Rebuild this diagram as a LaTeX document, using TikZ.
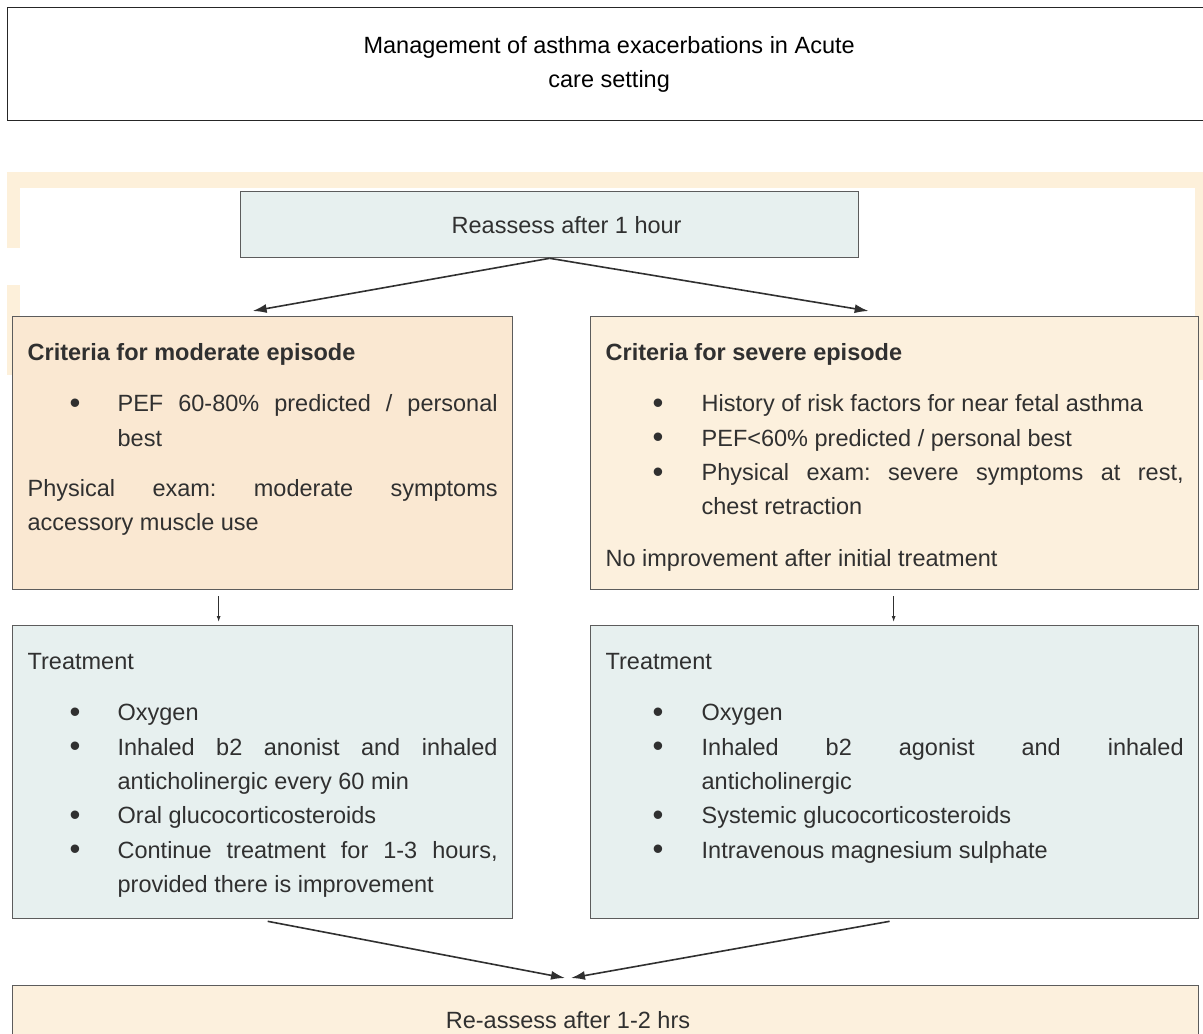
\documentclass[tikz,border=0pt]{standalone}
\usepackage{fontspec}
\setmainfont{Liberation Sans}
\usetikzlibrary{arrows.meta,positioning,calc}

\definecolor{inkgray}{HTML}{303030}
\definecolor{framegray}{HTML}{5C5C5C}
\definecolor{peach}{HTML}{FAE8D2}
\definecolor{cream}{HTML}{FCF0DD}
\definecolor{mist}{HTML}{E7F0EF}
\definecolor{scanbeige}{HTML}{FDF0DA}

\newlength{\bhang}
\newlength{\bpos}
% heading line of a panel
\newcommand{\panelhead}[1]{\noindent\rule{0pt}{44pt}#1\par\vspace{17pt}}
% one bullet of a panel
\newcommand{\bitem}[1]{\hangindent=\bhang\hangafter=1\noindent
  \makebox[\bhang][l]{\hspace{\bpos}\raisebox{-1.5pt}{\fontsize{31}{34}\selectfont\textbullet}}#1\par}
% text of a panel, fixed height, top aligned
\newcommand{\panelbody}[3]{\begin{minipage}[c][#1][t]{#2}%
  \fontsize{23.5}{34.3}\selectfont\frenchspacing\color{inkgray}\setlength{\parindent}{0pt}#3\end{minipage}}

\begin{document}
\begin{tikzpicture}[
  x=1pt, y=-1pt,
  every node/.style={font=\fontsize{23.5}{34.3}\selectfont},
  panel/.style={
    draw=framegray,
    line width=1.3pt,
    anchor=north west,
    inner xsep=15pt,
    inner ysep=0pt
  },
  arrow/.style={-{Latex[length=14pt,width=9pt]}, line width=1.6pt, draw=inkgray},
  smallarrow/.style={-{Latex[length=6pt,width=4pt]}, line width=1pt, draw=inkgray}
]
\useasboundingbox (0,0) rectangle (1203,1034);
\fill[white] (0,0) rectangle (1203,1034);

% title
\node[draw=black!85, line width=1.3pt, anchor=north west, minimum width=1203,
  minimum height=113, align=center] (title) at (7,7)
  {Management of asthma exacerbations in Acute\\care setting};

% scanned page edges
\fill[scanbeige] (7,172) rectangle (1203,188);
\fill[scanbeige] (7,188) rectangle (20,248);
\fill[scanbeige] (7,285) rectangle (20,375);
\fill[scanbeige] (1195,188) rectangle (1203,380);

\node[panel, fill=mist, minimum width=618, minimum height=66, text=inkgray] (reassess) at (240,191) {\hspace*{34pt}Reassess after 1 hour};

\setlength{\bhang}{90pt}\setlength{\bpos}{42pt}
\node[panel, fill=peach] (modC) at (12,316) {\panelbody{273pt}{470pt}{%
  \panelhead{\textbf{Criteria for moderate episode}}
  \bitem{PEF 60-80\% predicted / personal\linebreak best}
  \vspace{16pt}
  Physical exam: moderate symptoms\linebreak accessory muscle use\par}};

\node[panel, fill=mist] (treatL) at (12,625) {\panelbody{293pt}{470pt}{%
  \panelhead{Treatment}
  \bitem{Oxygen}
  \bitem{Inhaled b2 anonist and inhaled\linebreak anticholinergic every 60 min}
  \bitem{Oral glucocorticosteroids}
  \bitem{Continue treatment for 1-3 hours,\linebreak provided there is improvement}}};

\setlength{\bhang}{96pt}\setlength{\bpos}{47pt}
\node[panel, fill=cream] (sevC) at (590,316) {\panelbody{273pt}{578pt}{%
  \panelhead{\textbf{Criteria for severe episode}}
  \bitem{History of risk factors for near fetal asthma}
  \bitem{PEF<60\% predicted / personal best}
  \bitem{Physical exam: severe symptoms at rest,\linebreak chest retraction}
  \vspace{17pt}
  No improvement after initial treatment\par}};

\node[panel, fill=mist] (treatR) at (590,625) {\panelbody{293pt}{578pt}{%
  \panelhead{Treatment}
  \bitem{Oxygen}
  \bitem{Inhaled b2 agonist and inhaled\linebreak anticholinergic}
  \bitem{Systemic glucocorticosteroids}
  \bitem{Intravenous magnesium sulphate}}};

\node[panel, fill=cream, minimum width=1186, minimum height=80] (recheck) at (12,985) {};
\node[text=inkgray] (recheckText) at (568,1020) {Re-assess after 1-2 hrs};
\coordinate (meet) at (568,978);

\draw[arrow] (reassess.south) -- ([xshift=-10pt,yshift=5pt]modC.north);
\draw[arrow] (reassess.south) -- ([xshift=-26pt,yshift=5pt]sevC.north);
\draw[smallarrow] ([xshift=-44pt,yshift=-6pt]modC.south) -- ([xshift=-44pt,yshift=3pt]treatL.north);
\draw[smallarrow] ([xshift=-1pt,yshift=-6pt]sevC.south) -- ([xshift=-1pt,yshift=3pt]treatR.north);
\draw[arrow] ([xshift=5pt,yshift=-2pt]treatL.south) -- ([xshift=-3pt]meet);
\draw[arrow] ([xshift=-5pt,yshift=-2pt]treatR.south) -- ([xshift=3pt]meet);
\end{tikzpicture}
\end{document}
